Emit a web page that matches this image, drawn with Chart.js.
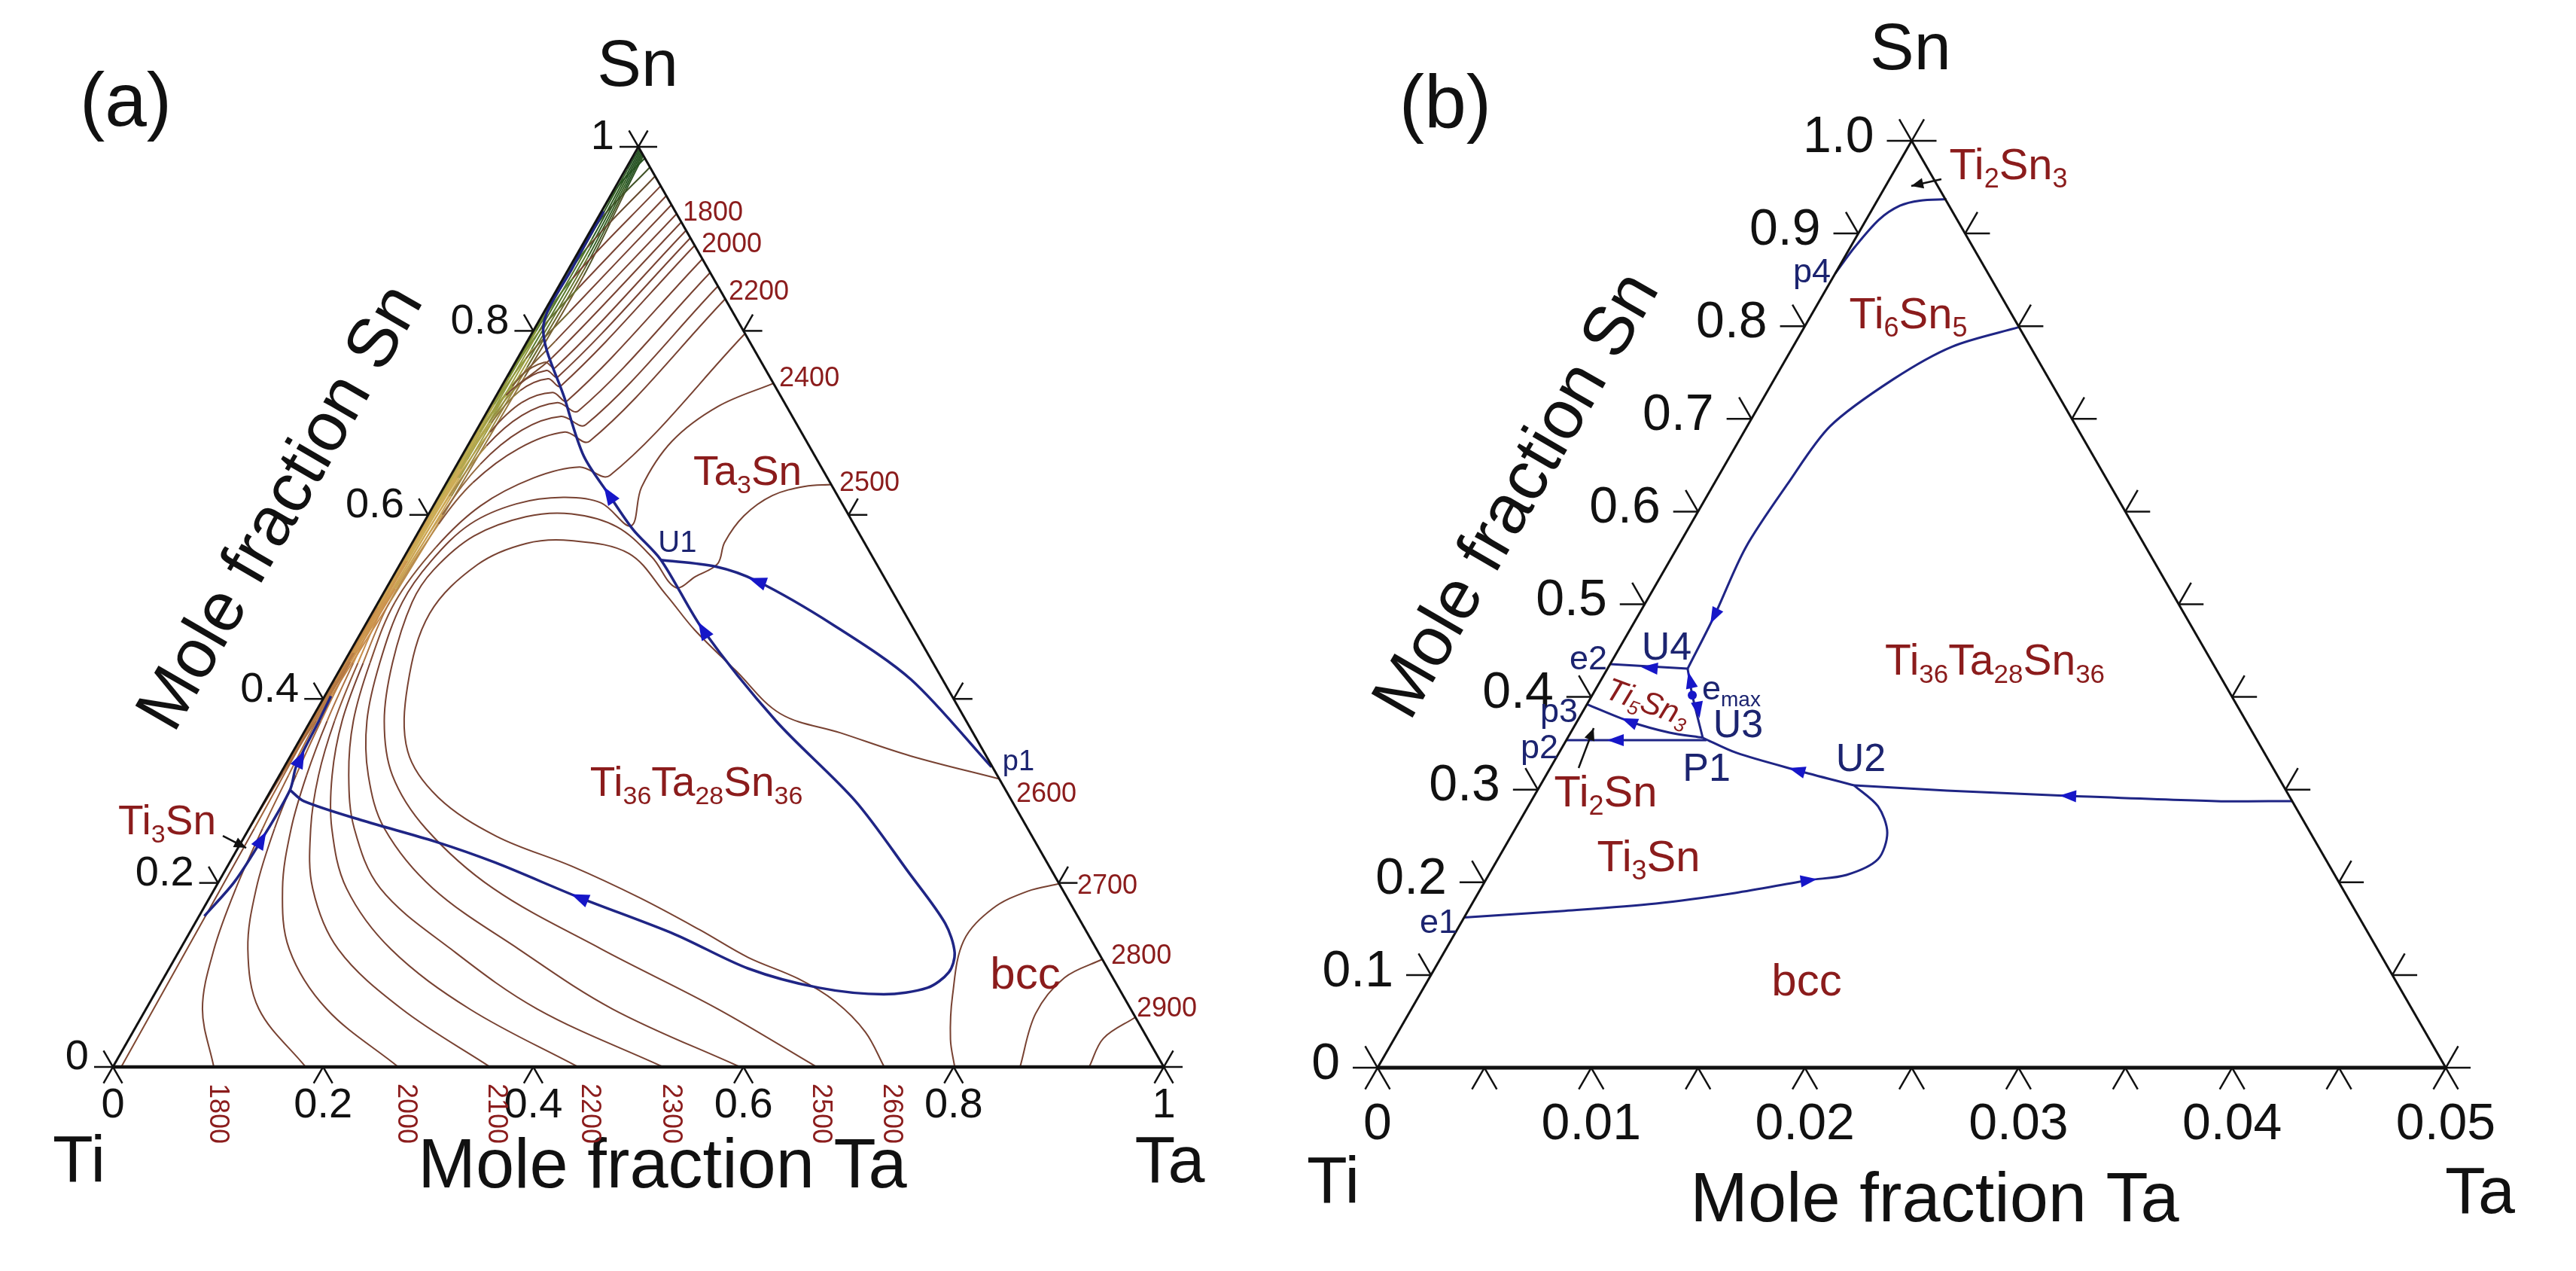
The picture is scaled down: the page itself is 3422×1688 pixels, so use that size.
<!DOCTYPE html>
<html>
<head>
<meta charset="utf-8">
<title>Ti-Ta-Sn liquidus projection</title>
<script src="https://cdn.jsdelivr.net/npm/chart.js@4.4.1/dist/chart.umd.min.js"></script>
<style>
  html, body { margin: 0; padding: 0; background: #fff; }
  #page { position: relative; width: 3422px; height: 1688px; background: #fff; }
  #page canvas { position: absolute; top: 0; }
</style>
</head>
<body>
<div id="page">
  <canvas id="chartA" width="1711" height="1688" style="left:0"></canvas>
  <canvas id="chartB" width="1711" height="1688" style="left:1711px"></canvas>
</div>
<script>
// every point below is [x(Ta), x(Sn)]; x(Ti) is the rest

// ---------------- panel (a): full triangle ----------------
const a_tickVals = [0, 0.2, 0.4, 0.6, 0.8, 1];
const a_tickLabels = ['0', '0.2', '0.4', '0.6', '0.8', '1'];

// low-T isotherms squeezed against the Ti-Sn side
const a_iso_e1 = [[0.002,0.998],[0.002,0.975],[0.003,0.90],[0.0028,0.80],[0.0024,0.70],[0.0018,0.60],[0.0010,0.50],[0,0.40]];
const a_iso_e2 = [[0.0035,0.9965],[0.004,0.97],[0.006,0.90],[0.0056,0.79],[0.0048,0.68],[0.0036,0.58],[0.0020,0.48],[0,0.37]];
const a_iso_e3 = [[0.005,0.995],[0.006,0.965],[0.009,0.89],[0.0084,0.78],[0.0072,0.66],[0.0054,0.56],[0.0030,0.46],[0,0.34]];
const a_iso_e4 = [[0.0065,0.9935],[0.008,0.96],[0.012,0.88],[0.0112,0.77],[0.0096,0.64],[0.0072,0.54],[0.0040,0.44],[0.0012,0.36],[0,0.31]];
const a_iso_e5 = [[0.008,0.992],[0.010,0.955],[0.015,0.87],[0.014,0.76],[0.012,0.62],[0.009,0.52],[0.005,0.42],[0.0016,0.34],[0,0.28]];
const a_iso_e6 = [[0.0095,0.9905],[0.012,0.95],[0.018,0.86],[0.0168,0.75],[0.0144,0.60],[0.0108,0.50],[0.006,0.40],[0.002,0.32],[0,0.25]];

// isotherms running from the Ta-Sn side into the bundle
const a_iso_h1 = [[0.0123,0.9877],[0.0018,0.955],[0.0009,0.88],[0.0007,0.75],[0.0004,0.62],[0,0.52]];
const a_iso_h2 = [[0.0221,0.9779],[0.0040,0.923],[0.0014,0.87],[0.0010,0.75],[0.0006,0.62],[0,0.48]];
const a_iso_h3 = [[0.0319,0.9681],[0.0060,0.89],[0.0020,0.84],[0.0012,0.72],[0.0007,0.60],[0,0.44]];
const a_iso_h4 = [[0.0425,0.9575],[0.0090,0.857],[0.0026,0.80],[0.0014,0.70],[0.0008,0.58],[0,0.42]];
const a_iso_h5 = [[0.063,0.937],[0.0239,0.82],[0.0080,0.77],[0.0030,0.72],[0.0017,0.62],[0.0014,0.50],[0,0.40]];
const a_iso_h6 = [[0.0818,0.9182],[0.0326,0.771],[0.0090,0.73],[0.0040,0.69],[0.0027,0.60],[0.0022,0.50],[0.0015,0.42],[0,0.33]];
const a_iso_h7 = [[0.0990,0.9010],[0.0485,0.750],[0.0340,0.757],[0.0160,0.742],[0.0080,0.700],[0.0050,0.650],[0.0036,0.550],[0.0030,0.45],[0,0.36]];
const a_iso_h8 = [[0.1219,0.8781],[0.0704,0.724],[0.0520,0.733],[0.0280,0.722],[0.0140,0.690],[0.0080,0.640],[0.0052,0.550],[0.0045,0.45],[0,0.34]];
const a_iso_h9 = [[0.1514,0.8486],[0.1010,0.698],[0.0730,0.707],[0.0430,0.692],[0.0220,0.655],[0.0130,0.600],[0.0080,0.520],[0.0060,0.44],[0,0.32]];

// isotherms that reach the Ti-Ta side
const a_iso_1700 = [[0.0532,0.9468],[0.0198,0.847],[0.0060,0.80],[0.0022,0.75],[0.0013,0.66],[0.0011,0.505],[0.0029,0.376],[0.0050,0.259],[0.0065,0.128],[0.0079,0]];
const a_iso_1800 = [[0.0728,0.9272],[0.0266,0.789],[0.0100,0.74],[0.0040,0.70],[0.0025,0.62],[0.0018,0.505],[0.0036,0.439],[0.0057,0.376],[0.0086,0.317],[0.0129,0.259],[0.0200,0.194],[0.0322,0.128],[0.0537,0.063],[0.0960,0]];
const a_iso_1900 = [[0.0908,0.9092],[0.0409,0.760],[0.0280,0.766],[0.0120,0.750],[0.0060,0.710],[0.0040,0.660],[0.0029,0.505],[0.0057,0.439],[0.0100,0.376],[0.0158,0.317],[0.0243,0.259],[0.0394,0.194],[0.0644,0.128],[0.1074,0.063],[0.1834,0]];
const a_iso_2000 = [[0.1072,0.8928],[0.0561,0.740],[0.0400,0.748],[0.0200,0.735],[0.0100,0.700],[0.0060,0.650],[0.0043,0.505],[0.0093,0.439],[0.0158,0.376],[0.0258,0.317],[0.0401,0.259],[0.0644,0.194],[0.1038,0.128],[0.1718,0.063],[0.2715,0]];
const a_iso_2100 = [[0.1367,0.8633],[0.0864,0.713],[0.0620,0.722],[0.0350,0.708],[0.0180,0.675],[0.0100,0.620],[0.0072,0.505],[0.0136,0.439],[0.0229,0.376],[0.0372,0.317],[0.0587,0.259],[0.0931,0.194],[0.1504,0.128],[0.2434,0.063],[0.3589,0]];
const a_iso_2200 = [[0.1653,0.8347],[0.1136,0.680],[0.0850,0.690],[0.0500,0.672],[0.0250,0.635],[0.0150,0.590],[0.0107,0.505],[0.0186,0.439],[0.0301,0.376],[0.0501,0.317],[0.0788,0.259],[0.1253,0.194],[0.2005,0.128],[0.3079,0.063],[0.4427,0]];
const a_iso_2300 = [[0.203,0.797],[0.1516,0.643],[0.118,0.652],[0.080,0.640],[0.045,0.610],[0.025,0.565],[0.0158,0.505],[0.0251,0.439],[0.0408,0.376],[0.0659,0.317],[0.1002,0.259],[0.1575,0.194],[0.2578,0.128],[0.3723,0.063],[0.5236,0]];
const a_iso_2400 = [[0.257,0.743],[0.217,0.718],[0.192,0.680],[0.188,0.630],[0.199,0.588],[0.158,0.613],[0.119,0.619],[0.078,0.612],[0.045,0.590],[0.028,0.550],[0.0229,0.505],[0.0344,0.439],[0.0537,0.376],[0.0845,0.317],[0.1289,0.259],[0.2076,0.194],[0.3222,0.128],[0.4439,0.063],[0.5967,0]];
const a_iso_2500 = [[0.367,0.633],[0.343,0.631],[0.317,0.621],[0.301,0.599],[0.297,0.570],[0.302,0.547],[0.288,0.533],[0.275,0.521],[0.236,0.554],[0.186,0.587],[0.136,0.601],[0.094,0.598],[0.055,0.577],[0.035,0.540],[0.0322,0.505],[0.0465,0.439],[0.0702,0.376],[0.1074,0.317],[0.1683,0.259],[0.2649,0.194],[0.4010,0.128],[0.5442,0.063],[0.6698,0]];
const a_iso_2600 = [[0.687,0.313],[0.590,0.338],[0.511,0.363],[0.443,0.384],[0.377,0.431],[0.316,0.475],[0.270,0.513],[0.212,0.558],[0.150,0.572],[0.109,0.569],[0.074,0.546],[0.055,0.493],[0.073,0.415],[0.109,0.343],[0.163,0.293],[0.239,0.251],[0.328,0.218],[0.409,0.184],[0.484,0.149],[0.545,0.119],[0.604,0.096],[0.652,0.071],[0.697,0.038],[0.734,0]];
const a_iso_2700 = [[0.801,0],[0.782,0.030],[0.760,0.078],[0.741,0.137],[0.751,0.172],[0.775,0.191],[0.801,0.199]];
const a_iso_2800 = [[0.8632,0],[0.849,0.058],[0.857,0.097],[0.883,0.117]];
const a_iso_2900 = [[0.929,0],[0.927,0.031],[0.946,0.054]];

// univariant valleys
const a_valley_p1U1 = [[0.673,0.326],[0.549,0.421],[0.446,0.480],[0.349,0.528],[0.301,0.544],[0.246,0.551]];
const a_valley_main = [[0.002,0.93],[0.003,0.87],[0.0075,0.804],[0.067,0.726],[0.116,0.664],[0.161,0.622],[0.203,0.584],[0.246,0.551],[0.324,0.475],[0.443,0.376],[0.562,0.289],[0.652,0.211],[0.714,0.156],[0.739,0.124],[0.744,0.103],[0.732,0.086],[0.694,0.079],[0.629,0.086],[0.551,0.107],[0.463,0.144],[0.352,0.184],[0.253,0.222],[0.184,0.245],[0.103,0.268],[0.037,0.289],[0.018,0.301]];
const a_valley_ti3sn = [[0.005,0.164],[0.015,0.201],[0.018,0.247],[0.018,0.301],[0.011,0.327],[0.008,0.376],[0.006,0.403]];

const a_edgeTemps = [1800, 2000, 2200, 2400, 2500, 2600, 2700, 2800, 2900];
const a_baseTemps = [1800, 2000, 2100, 2200, 2300, 2500, 2600];

// ---------------- panel (b): Ta-poor corner, x(Ta) up to 0.05 ----------------
const b_snTicks = [0, 0.1, 0.2, 0.3, 0.4, 0.5, 0.6, 0.7, 0.8, 0.9, 1.0];
const b_snTickLabels = ['0', '0.1', '0.2', '0.3', '0.4', '0.5', '0.6', '0.7', '0.8', '0.9', '1.0'];
const b_taTicks = [0, 0.005, 0.01, 0.015, 0.02, 0.025, 0.03, 0.035, 0.04, 0.045, 0.05];
const b_taLabelVals = [0, 0.01, 0.02, 0.03, 0.04, 0.05];
const b_taTickLabels = ['0', '0.01', '0.02', '0.03', '0.04', '0.05'];

const b_line_p4 = [[0,0.857],[0.0002,0.885],[0.0006,0.915],[0.0012,0.930],[0.0020,0.9355],[0.0032,0.937]];
const b_line_U4top = [[0.01005,0.799],[0.00745,0.778],[0.00558,0.743],[0.00388,0.692],[0.00345,0.630],[0.0032,0.561],[0.00358,0.487],[0.00375,0.4305]];
const b_line_e2 = [[0.00375,0.4305],[0,0.4354]];
const b_line_U4U3 = [[0.00375,0.4305],[0.00468,0.402],[0.00632,0.356]];
const b_line_p3 = [[0.00632,0.356],[0.00463,0.3615],[0.00243,0.3737],[0,0.392]];
const b_line_p2 = [[0.00656,0.3534],[0,0.3534]];
const b_line_U3U2 = [[0.00632,0.356],[0.00832,0.3396],[0.0116,0.3209],[0.01469,0.3046]];
const b_line_U2edge = [[0.01469,0.3046],[0.01917,0.299],[0.02498,0.2933],[0.03206,0.2876],[0.03562,0.2876]];
const b_line_e1U2 = [[0,0.162],[0.0044,0.169],[0.0086,0.1771],[0.01202,0.1885],[0.01513,0.2023],[0.01675,0.208],[0.0178,0.225],[0.01752,0.2535],[0.01638,0.2819],[0.01469,0.3046]];
const b_emax = [0.00468, 0.402];

// ---------------- drawing ----------------
const FONT = '"Liberation Sans", Arial, Helvetica, sans-serif';
const RED = '#8b1c1c';
const NAVY = '#1c2470';
const VALLEY = '#1f2585';
const ARROW = '#1616c8';
const BROWN = [120, 66, 50];
const EDGE_STOPS = [[0.20,[128,72,50]],[0.34,[170,108,62]],[0.48,[205,148,78]],[0.62,[205,178,88]],[0.76,[135,150,58]],[0.88,[62,105,38]],[1.0,[30,76,30]]];

const ternA = p => ({ x: p[0] + p[1] / 2, y: p[1] });
const ternB = p => ({ x: p[0] / 0.05 + p[1] / 2, y: p[1] });

function edgeShade(sn) {
  if (sn <= EDGE_STOPS[0][0]) return EDGE_STOPS[0][1];
  for (let i = 1; i < EDGE_STOPS.length; i++) {
    const [s1, c1] = EDGE_STOPS[i], [s0, c0] = EDGE_STOPS[i - 1];
    if (sn <= s1) {
      const t = (sn - s0) / (s1 - s0);
      return c0.map((v, k) => v + (c1[k] - v) * t);
    }
  }
  return EDGE_STOPS[EDGE_STOPS.length - 1][1];
}

// contour colour: brown, turning green/yellow where it hugs the Ti-Sn side
function isoColor(c) {
  const p0 = c.p0.parsed, p1 = c.p1.parsed;
  const sn = (p0.y + p1.y) / 2;
  const ta = (p0.x + p1.x) / 2 - sn / 2;
  const k = Math.min(1, Math.max(0, (0.022 - ta) / 0.012));
  const e = edgeShade(sn);
  const r = BROWN.map((b, i) => Math.round(b + (e[i] - b) * k));
  return 'rgb(' + r[0] + ',' + r[1] + ',' + r[2] + ')';
}

function drawRich(ctx, text, x, y, size, align, italic) {
  const parts = text.split(/(_\{[^}]*\})/).filter(s => s.length)
    .map(s => s.startsWith('_{') ? { t: s.slice(2, -1), sub: true } : { t: s, sub: false });
  const st = italic ? 'italic ' : '';
  const fMain = st + size + 'px ' + FONT;
  const fSub = st + Math.round(size * 0.62) + 'px ' + FONT;
  let w = 0;
  parts.forEach(p => { ctx.font = p.sub ? fSub : fMain; p.w = ctx.measureText(p.t).width; w += p.w; });
  let cx = align === 'left' ? x : align === 'right' ? x - w : x - w / 2;
  ctx.textAlign = 'left';
  ctx.textBaseline = 'middle';
  parts.forEach(p => {
    ctx.font = p.sub ? fSub : fMain;
    ctx.fillText(p.t, cx, p.sub ? y + size * 0.3 : y);
    cx += p.w;
  });
}

function head(ctx, p, q, len, half, color) {
  const ang = Math.atan2(q[1] - p[1], q[0] - p[0]);
  ctx.save();
  ctx.translate(p[0], p[1]);
  ctx.rotate(ang);
  ctx.fillStyle = color;
  ctx.beginPath();
  ctx.moveTo(len / 2, 0);
  ctx.lineTo(-len / 2, -half);
  ctx.lineTo(-len / 2, half);
  ctx.closePath();
  ctx.fill();
  ctx.restore();
}

function framePlugin(o) {
  return {
    id: 'frame_' + o.name,
    afterDatasetsDraw(chart) {
      const ctx = chart.ctx, sx = chart.scales.x, sy = chart.scales.y;
      const P = (X, Y) => [sx.getPixelForValue(X), sy.getPixelForValue(Y)];
      const T = o.tern;
      const PT = p => { const q = T(p); return P(q.x, q.y); };
      ctx.save();

      // arrows along the valleys
      o.arrows.forEach(a => head(ctx, PT(a.at), PT(a.to), o.arrowLen, o.arrowHalf, ARROW));
      (o.dots || []).forEach(d => {
        const p = PT(d);
        ctx.fillStyle = ARROW;
        ctx.beginPath(); ctx.arc(p[0], p[1], 6, 0, Math.PI * 2); ctx.fill();
      });
      // black pointers
      o.pointers.forEach(a => {
        const p = P(a.from[0], a.from[1]), q = P(a.to[0], a.to[1]);
        ctx.strokeStyle = '#111'; ctx.lineWidth = 2.5;
        ctx.beginPath(); ctx.moveTo(p[0], p[1]); ctx.lineTo(q[0], q[1]); ctx.stroke();
        const ang = Math.atan2(q[1] - p[1], q[0] - p[0]);
        head(ctx, [q[0] - Math.cos(ang) * 8, q[1] - Math.sin(ang) * 8], q, 16, 7, '#111');
      });

      // triangle and ticks
      const ti = P(0, 0), ta = P(1, 0), sn = P(0.5, 1);
      ctx.strokeStyle = '#111';
      ctx.lineCap = 'butt';
      const seg = (a, b, w) => { ctx.lineWidth = w; ctx.beginPath(); ctx.moveTo(a[0], a[1]); ctx.lineTo(b[0], b[1]); ctx.stroke(); };
      seg(ti, sn, o.sideWidth); seg(sn, ta, o.sideWidth); seg(ti, ta, o.baseWidth);
      const L = o.tickLen, c = 0.5 * L, s = 0.866 * L;
      o.leftTicks.forEach(v => { const p = P(v / 2, v); seg(p, [p[0] - L, p[1]], o.tickWidth); seg(p, [p[0] - c, p[1] - s], o.tickWidth); });
      o.rightTicks.forEach(v => { const p = P(1 - v / 2, v); seg(p, [p[0] + L, p[1]], o.tickWidth); seg(p, [p[0] + c, p[1] - s], o.tickWidth); });
      o.bottomTicks.forEach(v => { const p = P(v / o.taFull, 0); seg(p, [p[0] - c, p[1] + s], o.tickWidth); seg(p, [p[0] + c, p[1] + s], o.tickWidth); });

      ctx.fillStyle = '#111';
      ctx.font = o.tickFont + 'px ' + FONT;
      ctx.textBaseline = 'middle';
      ctx.textAlign = 'right';
      o.leftTicks.forEach((v, i) => { const p = P(v / 2, v); ctx.fillText(o.leftLabels[i], p[0] + o.leftDx, p[1] + o.leftDy); });
      ctx.textAlign = 'center';
      o.bottomLabelVals.forEach((v, i) => { const p = P(v / o.taFull, 0); ctx.fillText(o.bottomLabels[i], p[0], p[1] + o.bottomDy); });

      // free text
      o.texts.forEach(l => {
        const p = P(l.x, l.y);
        ctx.save();
        ctx.translate(p[0], p[1]);
        if (l.rot) ctx.rotate(l.rot * Math.PI / 180);
        ctx.fillStyle = l.color || '#111';
        drawRich(ctx, l.t, 0, 0, l.size, l.align || 'center', l.italic);
        ctx.restore();
      });
      ctx.restore();
    }
  };
}

function lineSet(points, tern, color, width, tension, order, segColor) {
  const d = {
    data: points.map(tern), showLine: true, borderColor: color, borderWidth: width,
    pointRadius: 0, pointHoverRadius: 0, tension: tension, fill: false, order: order
  };
  if (segColor) d.segment = { borderColor: segColor };
  return d;
}

function baseOptions(xr, yr) {
  return {
    responsive: false, animation: false, devicePixelRatio: 1,
    layout: { padding: 0 },
    plugins: { legend: { display: false }, tooltip: { enabled: false } },
    events: [],
    scales: {
      x: { type: 'linear', min: xr[0], max: xr[1], display: false },
      y: { type: 'linear', min: yr[0], max: yr[1], display: false }
    }
  };
}

// ---- panel (a)
const a_isotherms = [a_iso_h1, a_iso_h2, a_iso_h3, a_iso_h4, a_iso_h5, a_iso_h6, a_iso_h7, a_iso_h8, a_iso_h9,
  a_iso_1700, a_iso_1800, a_iso_1900, a_iso_2000, a_iso_2100, a_iso_2200, a_iso_2300, a_iso_2400, a_iso_2500, a_iso_2600,
  a_iso_2700, a_iso_2800, a_iso_2900, a_iso_e6, a_iso_e5, a_iso_e4, a_iso_e3, a_iso_e2, a_iso_e1];
const a_valleys = [a_valley_p1U1, a_valley_main, a_valley_ti3sn];

const a_edgeTempPos = [[0.5423,0.928],[0.5602,0.8936],[0.5860,0.8421],[0.6340,0.7480],[0.6912,0.6342],[0.8596,0.2963],[0.9176,0.1964],[0.9499,0.1203],[0.9742,0.0630]];
const a_baseTempX = [0.0996, 0.2787, 0.3646, 0.4534, 0.5308, 0.6733, 0.7407];

const a_texts = [
  { t: '(a)', x: 0.0122, y: 1.0458, size: 100 },
  { t: 'Sn', x: 0.4993, y: 1.0859, size: 88 },
  { t: 'Ti', x: -0.0322, y: -0.1047, size: 88 },
  { t: 'Ta', x: 1.0057, y: -0.1056, size: 88 },
  { t: 'Mole fraction Ta', x: 0.5229, y: -0.1105, size: 92 },
  { t: 'Mole fraction Sn', x: 0.1612, y: 0.6072, size: 92, rot: -60 },
  { t: 'Ta_{3}Sn', x: 0.6039, y: 0.6448, size: 55, color: RED },
  { t: 'Ti_{36}Ta_{28}Sn_{36}', x: 0.5552, y: 0.3069, size: 55, color: RED },
  { t: 'bcc', x: 0.8682, y: 0.099, size: 60, color: RED },
  { t: 'Ti_{3}Sn', x: 0.0516, y: 0.2651, size: 55, color: RED },
  { t: 'p1', x: 0.8617, y: 0.3314, size: 38, color: NAVY },
  { t: 'U1', x: 0.5372, y: 0.5687, size: 40, color: NAVY }
];
a_edgeTemps.forEach((t, i) => a_texts.push({ t: String(t), x: a_edgeTempPos[i][0], y: a_edgeTempPos[i][1], size: 36, color: RED, align: 'left' }));
a_baseTemps.forEach((t, i) => a_texts.push({ t: String(t), x: a_baseTempX[i], y: -0.0507, size: 36, color: RED, rot: 90 }));

new Chart(document.getElementById('chartA'), {
  type: 'scatter',
  data: {
    datasets: [
      ...a_valleys.map(d => lineSet(d, ternA, VALLEY, 3.5, 0.3, 0)),
      ...a_isotherms.map(d => lineSet(d, ternA, 'rgb(120,66,50)', 2, 0.35, 1, isoColor))
    ]
  },
  options: baseOptions([-0.10745, 1.11819], [-0.22177, 1.15957]),
  plugins: [framePlugin({
    name: 'a', tern: ternA, taFull: 1,
    sideWidth: 3, baseWidth: 4.5, tickLen: 25, tickWidth: 2.5, tickFont: 56,
    leftTicks: a_tickVals, leftLabels: a_tickLabels, leftDx: -32, leftDy: -12,
    rightTicks: a_tickVals, bottomTicks: a_tickVals,
    bottomLabelVals: a_tickVals, bottomLabels: a_tickLabels, bottomDy: 52,
    arrowLen: 24, arrowHalf: 9,
    arrows: [
      { at: [0.349, 0.528], to: [0.301, 0.544] },
      { at: [0.161, 0.622], to: [0.116, 0.664] },
      { at: [0.324, 0.475], to: [0.246, 0.551] },
      { at: [0.352, 0.184], to: [0.253, 0.222] },
      { at: [0.018, 0.247], to: [0.018, 0.301] },
      { at: [0.011, 0.335], to: [0.008, 0.376] }
    ],
    pointers: [{ from: [0.1046, 0.2512], to: [0.1268, 0.2381] }],
    texts: a_texts
  })]
});

// ---- panel (b)
const b_lines = [b_line_p4, b_line_U4top, b_line_e2, b_line_U4U3, b_line_p3, b_line_p2, b_line_U3U2, b_line_U2edge, b_line_e1U2];
const b_texts = [
  { t: '(b)', x: 0.0634, y: 1.0366, size: 100 },
  { t: 'Sn', x: 0.4989, y: 1.0967, size: 88 },
  { t: 'Ti', x: -0.0416, y: -0.1259, size: 88 },
  { t: 'Ta', x: 1.032, y: -0.1373, size: 88 },
  { t: 'Mole fraction Ta', x: 0.5215, y: -0.1454, size: 92 },
  { t: 'Mole fraction Sn', x: 0.1318, y: 0.6166, size: 92, rot: -60 },
  { t: 'Ti_{2}Sn_{3}', x: 0.5906, y: 0.9716, size: 58, color: RED },
  { t: 'Ti_{6}Sn_{5}', x: 0.4968, y: 0.8107, size: 58, color: RED },
  { t: 'Ti_{36}Ta_{28}Sn_{36}', x: 0.5779, y: 0.437, size: 57, color: RED },
  { t: 'Ti_{5}Sn_{3}', x: 0.2523, y: 0.3924, size: 42, color: RED, rot: 20, italic: true },
  { t: 'Ti_{2}Sn', x: 0.2135, y: 0.2949, size: 58, color: RED },
  { t: 'Ti_{3}Sn', x: 0.2537, y: 0.225, size: 58, color: RED },
  { t: 'bcc', x: 0.4017, y: 0.0918, size: 60, color: RED },
  { t: 'p4', x: 0.4066, y: 0.857, size: 45, color: NAVY },
  { t: 'e2', x: 0.1973, y: 0.4395, size: 45, color: NAVY },
  { t: 'U4', x: 0.2706, y: 0.4517, size: 52, color: NAVY },
  { t: 'e_{max}', x: 0.3312, y: 0.407, size: 45, color: NAVY },
  { t: 'p3', x: 0.1698, y: 0.3826, size: 45, color: NAVY },
  { t: 'p2', x: 0.1515, y: 0.3436, size: 45, color: NAVY },
  { t: 'U3', x: 0.3376, y: 0.368, size: 52, color: NAVY },
  { t: 'P1', x: 0.308, y: 0.3209, size: 52, color: NAVY },
  { t: 'U2', x: 0.4524, y: 0.3314, size: 52, color: NAVY },
  { t: 'e1', x: 0.0571, y: 0.1552, size: 45, color: NAVY }
];

new Chart(document.getElementById('chartB'), {
  type: 'scatter',
  data: { datasets: b_lines.map(d => lineSet(d, ternB, VALLEY, 3, 0.3, 0)) },
  options: baseOptions([-0.08386, 1.12192], [-0.21933, 1.15191]),
  plugins: [framePlugin({
    name: 'b', tern: ternB, taFull: 0.05,
    sideWidth: 3, baseWidth: 5, tickLen: 33, tickWidth: 2.5, tickFont: 68,
    leftTicks: b_snTicks, leftLabels: b_snTickLabels, leftDx: -50, leftDy: -4,
    rightTicks: b_snTicks, bottomTicks: b_taTicks,
    bottomLabelVals: b_taLabelVals, bottomLabels: b_taTickLabels, bottomDy: 76,
    arrowLen: 22, arrowHalf: 8,
    arrows: [
      { at: [0.00358, 0.487], to: [0.00375, 0.4305] },
      { at: [0.00194, 0.4314], to: [0, 0.4354] },
      { at: [0.00417, 0.4184], to: [0.00375, 0.4305] },
      { at: [0.00536, 0.3859], to: [0.00632, 0.356] },
      { at: [0.00243, 0.3737], to: [0, 0.392] },
      { at: [0.0023, 0.3534], to: [0, 0.3534] },
      { at: [0.0116, 0.3209], to: [0.00832, 0.3396] },
      { at: [0.02498, 0.2933], to: [0.01917, 0.299] },
      { at: [0.01513, 0.2023], to: [0.01675, 0.208] }
    ],
    dots: [b_emax],
    pointers: [
      { from: [0.5278, 0.9586], to: [0.4996, 0.9513] },
      { from: [0.1882, 0.3233], to: [0.2023, 0.3664] }
    ],
    texts: b_texts
  })]
});
</script>
</body>
</html>
